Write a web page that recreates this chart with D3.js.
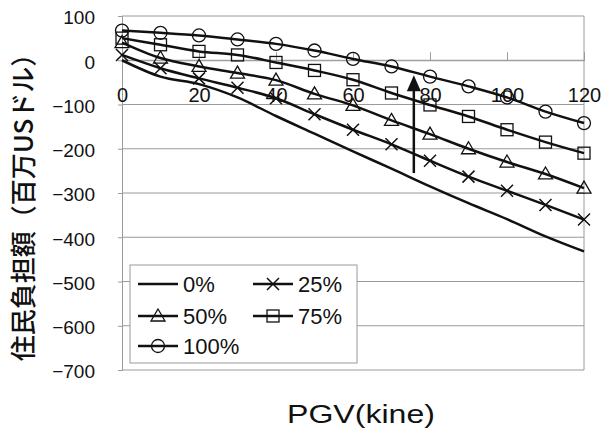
<!DOCTYPE html>
<html>
<head>
<meta charset="utf-8">
<script src="https://cdn.jsdelivr.net/npm/d3@7.9.0/dist/d3.min.js"></script>
<style>
  body { margin: 0; background: #fff; }
  svg { font-family: "Liberation Sans", Arial, sans-serif; }
</style>
</head>
<body>
<svg id="chart" width="602" height="432"></svg>
<script>
// data
const pgv = [0, 10, 20, 30, 40, 50, 60, 70, 80, 90, 100, 110, 120];
const seriesNames = ['0%', '25%', '50%', '75%', '100%'];
const v0 = [0, -37, -54, -84, -126, -166, -206, -245, -285, -323, -359, -398, -432];
const v25 = [12, -18, -41, -62, -86, -122, -157, -190, -227, -263, -295, -327, -360];
const v50 = [40, 5, -14, -29, -45, -76, -102, -136, -167, -200, -230, -257, -289];
const v75 = [50, 35, 20, 12, -5, -23, -44, -74, -101, -127, -157, -185, -210];
const v100 = [67, 62, 56, 47, 37, 22, 3, -14, -37, -59, -84, -116, -142];
const xTicks = [0, 20, 40, 60, 80, 100, 120];
const yTicks = [100, 0, -100, -200, -300, -400, -500, -600, -700];

const series = [
  { name: seriesNames[0], values: v0, marker: 'none' },
  { name: seriesNames[1], values: v25, marker: 'cross' },
  { name: seriesNames[2], values: v50, marker: 'triangle' },
  { name: seriesNames[3], values: v75, marker: 'square' },
  { name: seriesNames[4], values: v100, marker: 'circle' },
];

const svg = d3.select('#chart');
const x = d3.scaleLinear().domain([0, 120]).range([122, 584]);
const y = d3.scaleLinear().domain([-700, 100]).range([370, 16]);

// grid lines
svg.append('g').selectAll('line')
  .data(yTicks)
  .join('line')
  .attr('x1', x(0)).attr('x2', x(120))
  .attr('y1', d => y(d)).attr('y2', d => y(d))
  .attr('stroke', '#9a9a9a').attr('stroke-width', 1);

svg.append('line')
  .attr('x1', x(120)).attr('x2', x(120))
  .attr('y1', y(100)).attr('y2', y(-700))
  .attr('stroke', '#9a9a9a');

// y axis
const fmt = d => d < 0 ? '\u2212' + Math.abs(d) : String(d);
const yAxis = svg.append('g')
  .attr('transform', `translate(${x(0)},0)`)
  .call(d3.axisLeft(y).tickValues(yTicks).tickSize(4).tickPadding(23).tickFormat(fmt));
yAxis.select('.domain').attr('stroke', '#9a9a9a');
yAxis.selectAll('.tick line').attr('stroke', '#9a9a9a');
yAxis.selectAll('text').attr('font-size', 19).attr('fill', '#111').attr('dy', '0.42em');

// x axis sits on zero
const xAxis = svg.append('g')
  .attr('transform', `translate(0,${y(0)})`)
  .call(d3.axisBottom(x).tickValues(xTicks).tickSize(-8).tickPadding(28).tickFormat(d3.format('d')));
xAxis.select('.domain').attr('stroke', '#9a9a9a');
xAxis.selectAll('.tick line').attr('stroke', '#9a9a9a');
xAxis.selectAll('text').attr('font-size', 20).attr('fill', '#111');

// markers
function drawMarker(g, type, cx, cy) {
  if (type === 'circle') {
    g.append('circle').attr('cx', cx).attr('cy', cy).attr('r', 6.5)
      .attr('fill', 'none').attr('stroke', '#111').attr('stroke-width', 1.3);
  } else if (type === 'square') {
    g.append('rect').attr('x', cx - 6).attr('y', cy - 6).attr('width', 12).attr('height', 12)
      .attr('fill', 'none').attr('stroke', '#111').attr('stroke-width', 1.3);
  } else if (type === 'triangle') {
    g.append('path').attr('d', `M${cx},${cy - 7}L${cx + 7},${cy + 5}L${cx - 7},${cy + 5}Z`)
      .attr('fill', 'none').attr('stroke', '#111').attr('stroke-width', 1.3);
  } else if (type === 'cross') {
    g.append('path').attr('d', `M${cx - 6},${cy - 6}L${cx + 6},${cy + 6}M${cx + 6},${cy - 6}L${cx - 6},${cy + 6}`)
      .attr('fill', 'none').attr('stroke', '#111').attr('stroke-width', 1.5);
  }
}

const line = d3.line()
  .x((d, i) => x(pgv[i]))
  .y(d => y(d))
  .curve(d3.curveMonotoneX);

series.forEach(s => {
  const g = svg.append('g');
  g.append('path')
    .attr('d', line(s.values))
    .attr('fill', 'none')
    .attr('stroke', '#111')
    .attr('stroke-width', 2.5);
  s.values.forEach((v, i) => drawMarker(g, s.marker, x(pgv[i]), y(v)));
});

// arrow
const arrowX = x(75.8);
svg.append('line')
  .attr('x1', arrowX).attr('x2', arrowX)
  .attr('y1', y(-255)).attr('y2', y(-60))
  .attr('stroke', '#111').attr('stroke-width', 2.5);
svg.append('path')
  .attr('d', `M${arrowX},${y(-34)}L${arrowX + 7},${y(-70)}L${arrowX - 7},${y(-70)}Z`)
  .attr('fill', '#111');

// legend
const legend = svg.append('g');
legend.append('rect')
  .attr('x', 130).attr('y', 265).attr('width', 227).attr('height', 98)
  .attr('fill', '#fff').attr('stroke', '#9a9a9a');
const legendPos = [[138, 284], [253, 284], [138, 316], [253, 316], [138, 346]];
series.forEach((s, i) => {
  const [lx, ly] = legendPos[i];
  legend.append('line')
    .attr('x1', lx).attr('x2', lx + 40).attr('y1', ly).attr('y2', ly)
    .attr('stroke', '#111').attr('stroke-width', 2.5);
  drawMarker(legend, s.marker, lx + 20, ly);
  legend.append('text')
    .attr('x', lx + 45).attr('y', ly + 8)
    .attr('font-size', 22).attr('fill', '#111')
    .text(s.name);
});

// axis titles
svg.append('text')
  .attr('x', 361).attr('y', 423)
  .attr('text-anchor', 'middle')
  .attr('font-size', 25).attr('fill', '#111')
  .attr('textLength', 148).attr('lengthAdjust', 'spacingAndGlyphs')
  .text('PGV(kine)');

svg.append('text')
  .attr('transform', 'translate(33,201) rotate(-90)')
  .attr('text-anchor', 'middle')
  .attr('font-family', '"Noto Sans CJK JP", sans-serif')
  .attr('font-weight', 500)
  .attr('font-size', 26).attr('fill', '#111')
  .text('住民負担額（百万USドル）');
</script>
</body>
</html>
